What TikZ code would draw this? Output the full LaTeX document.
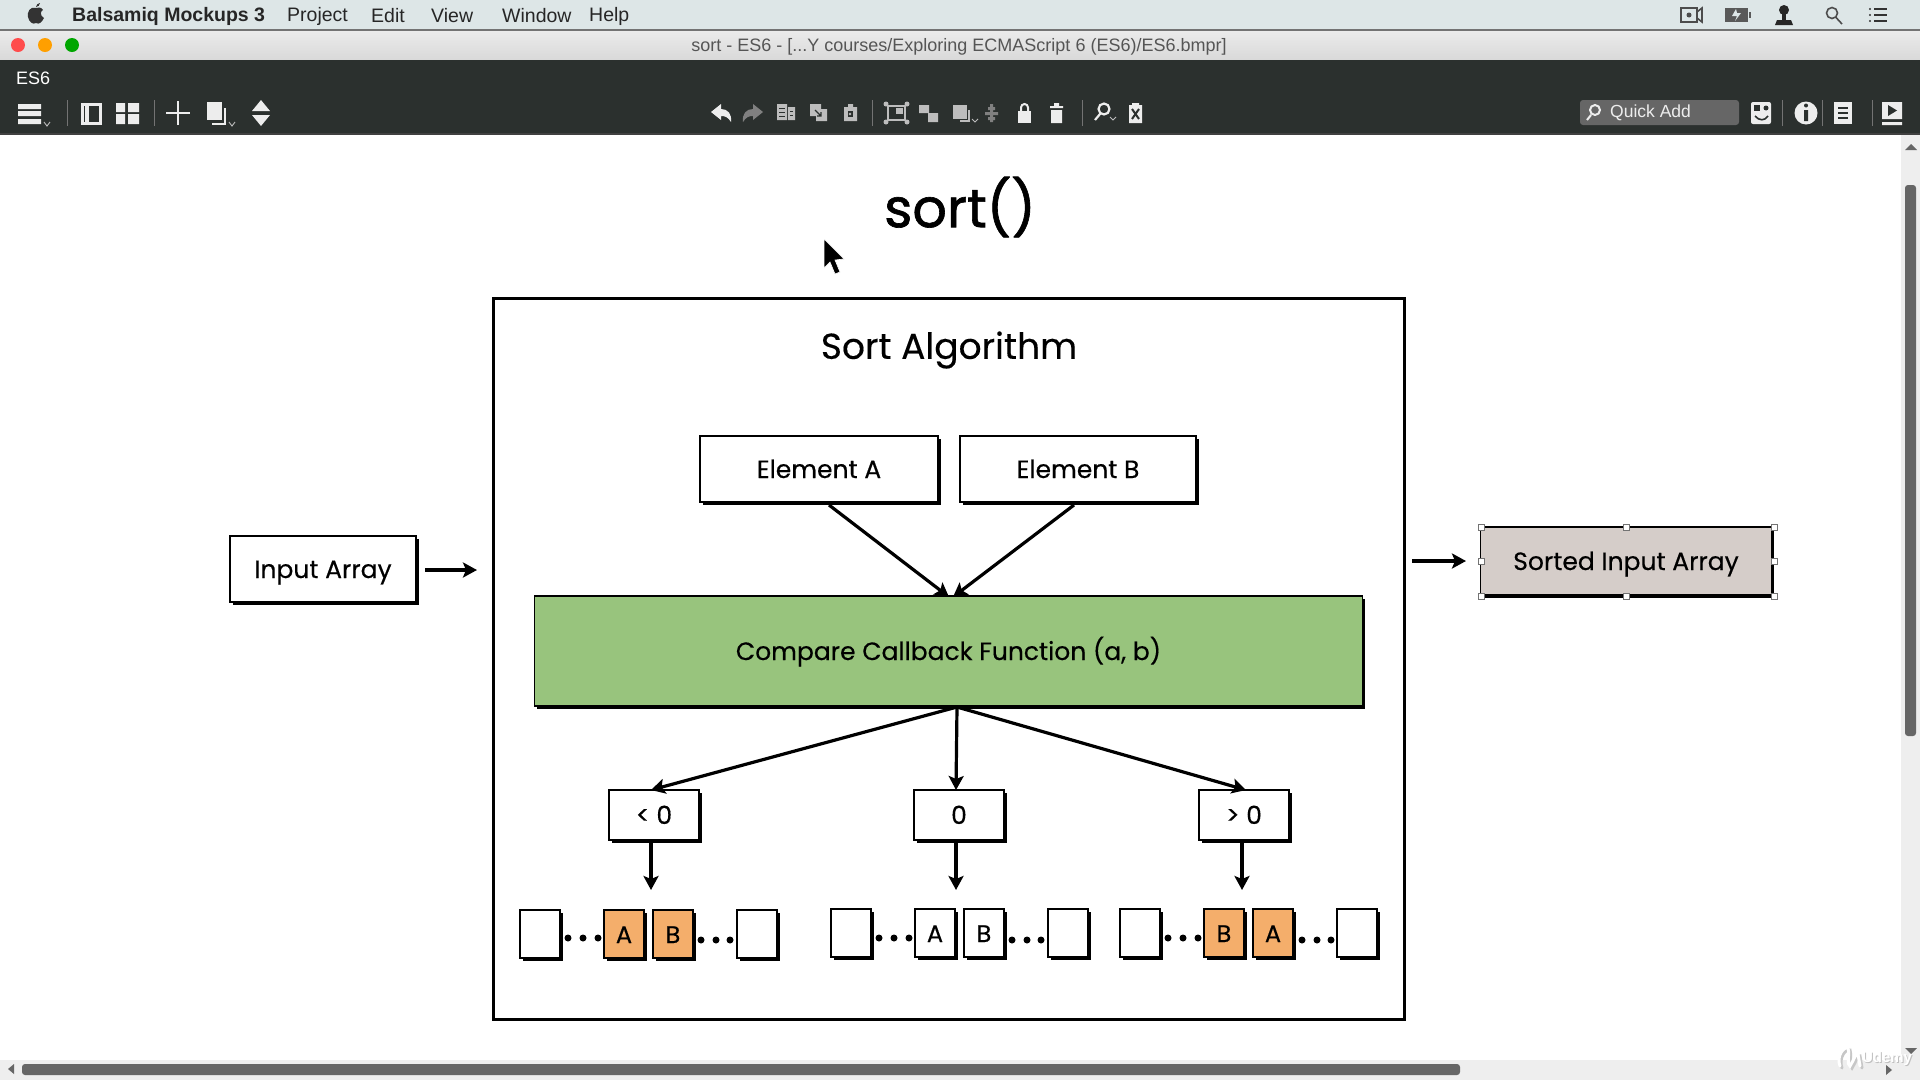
\documentclass[tikz,border=0pt]{standalone}
\usepackage{fontspec}
\setmainfont{Poppins}[FakeBold=0.35]
\newfontfamily\titlefont{Poppins}[FakeBold=1.2]
\newfontfamily\uifont{Liberation Sans}
\usetikzlibrary{shadows,arrows.meta}
\definecolor{menubg}{HTML}{DDE6E7}
\definecolor{titlebg}{HTML}{DCDCDC}
\definecolor{darkbg}{HTML}{2B302E}
\definecolor{greenbox}{HTML}{98C47D}
\definecolor{orangebox}{HTML}{F4AE6B}
\definecolor{beigebox}{HTML}{D5CDC9}
\definecolor{uigrey}{HTML}{555555}
\definecolor{iconw}{HTML}{EDEDED}
\definecolor{icong}{HTML}{BDBDBD}
\definecolor{track}{HTML}{EEEEEE}
\tikzset{
  x=1pt,y=-1pt,
  sketch/.style={draw=black,line width=1.5pt,fill=white,inner sep=0pt,text height=18pt,text depth=0pt,
    general shadow={shadow xshift=2.5pt,shadow yshift=-3pt,fill=black},font=\fontsize{25}{28}\selectfont},
  small/.style={sketch,minimum width=40pt,minimum height=48pt,font=\fontsize{24}{26}\selectfont},
  cmp/.style={sketch,minimum width=90pt,minimum height=50pt},
  elem/.style={sketch,minimum width=238pt,minimum height=66pt},
  flow/.style={-{Stealth[length=14pt,width=15pt,inset=3pt]},line width=3.2pt,black},
  ddot/.style={circle,fill=black,minimum size=7pt,inner sep=0pt},
  menu/.style={font=\uifont\fontsize{19.5}{22}\selectfont,text=black!85,anchor=west,inner sep=0pt},
  ic/.style={fill=iconw,draw=none},
  icg/.style={fill=icong,draw=none},
  caret/.style={draw=icong,line width=.9pt},
  handle/.style={draw=black!55,fill=white,line width=.6pt,minimum size=6pt,inner sep=0pt},
}
\begin{document}
\begin{tikzpicture}
\useasboundingbox (0,0) rectangle (1920,1080);
\fill[white] (0,0) rectangle (1920,1080);
% menu bar
\fill[menubg] (0,0) rectangle (1920,29);
\fill[black!55] (0,29) rectangle (1920,31);
\fill[top color=white!92!black,bottom color=black!15] (0,31) rectangle (1920,60);
\fill[darkbg] (0,60) rectangle (1920,133);
\fill[black!75] (0,133) rectangle (1920,135);
% apple
\fill[black!80] (36,8) .. controls (30,6) and (27,12) .. (28,17) .. controls (29,22) and (33,25) .. (36,23) .. controls (39,25) and (42,22) .. (44,18) .. controls (40,16) and (40,11) .. (43,10) .. controls (41,7) and (38,7) .. (36,8) -- cycle;
\fill[black!80] (36,7) .. controls (36,5) and (38,3) .. (40,3) .. controls (40,5) and (38,7) .. (36,7) -- cycle;
\node[menu,font=\uifont\bfseries\fontsize{19.5}{22}\selectfont] (app) at (72,16) {Balsamiq Mockups 3};
\node[menu] (m1) at (287,16) {Project};
\node[menu] (m2) at (371,16) {Edit};
\node[menu] (m3) at (431,16) {View};
\node[menu] (m4) at (502,16) {Window};
\node[menu] (m5) at (589,16) {Help};
% menu right icons
\draw[black!70,line width=1.6pt] (1681,8) rectangle (1697,22) (1697,12) -- (1702,8) -- (1702,22) -- (1697,18);
\fill[black!70] (1689,15) circle (2.5);
\fill[black!65] (1725,8) rectangle (1748,22);
\fill[black!65] (1749,12) rectangle (1751,18);
\fill[menubg] (1736,9) -- (1732,16) -- (1737,16) -- (1735,21) -- (1741,13) -- (1737,13) -- cycle;
\fill[black!85] (1784,10) circle (5);
\fill[black!85] (1782,12) rectangle (1786,20);
\fill[black!85] (1775,25) -- (1777,20) -- (1791,20) -- (1793,25) -- cycle;
\draw[black!70,line width=1.6pt] (1832,13) circle (5.5) (1836,17.5) -- (1842,24);
\draw[black!80,line width=2pt] (1874,9) -- (1887,9) (1874,15) -- (1887,15) (1874,21) -- (1887,21);
\fill[black!80] (1870,9) circle (1.2) (1870,15) circle (1.2) (1870,21) circle (1.2);
% window controls
\fill[red!70!white] (18,45) circle (7);
\fill[orange!75!yellow] (45,45) circle (7);
\fill[green!65!black] (72,45) circle (7);
\node[font=\uifont\fontsize{18}{20}\selectfont,text=uigrey,inner sep=0pt] (wintitle) at (959,47) {sort - ES6 - [...Y courses/Exploring ECMAScript 6 (ES6)/ES6.bmpr]};
\node[menu,text=white,font=\uifont\fontsize{18}{20}\selectfont] (tab) at (16,78) {ES6};
% toolbar left
\fill[ic] (18,104) rectangle (41,109) (18,111) rectangle (41,116) (18,119) rectangle (41,124);
\draw[caret] (44,122) -- (47,126) -- (50,122);
\draw[iconw,line width=3pt] (82,104) rectangle (100,123);
\fill[ic] (85,104) rectangle (89,123);
\fill[ic] (116,103) rectangle (125,112) (128,103) rectangle (139,112) (116,114) rectangle (125,124) (128,114) rectangle (139,124);
\draw[iconw,line width=2.4pt] (178,101) -- (178,125) (166,113) -- (190,113);
\fill[ic] (207,102) rectangle (222,120);
\draw[iconw,line width=2pt] (225,108) -- (225,124) -- (212,124);
\draw[caret] (229,122) -- (232,126) -- (235,122);
\fill[ic] (261,100) -- (270,111) -- (252,111) -- cycle (252,115) -- (270,115) -- (261,126) -- cycle;
\draw[black!55,line width=.8pt] (67,100) -- (67,126) (154,100) -- (154,126) (872,100) -- (872,126) (1082,100) -- (1082,126) (1782,100) -- (1782,126) (1822,100) -- (1822,126) (1872,100) -- (1872,126);
% toolbar middle
\fill[ic] (711,112) -- (721,104) -- (721,109) .. controls (728,109) and (732,114) .. (731,122) .. controls (728,117) and (725,116) .. (721,116) -- (721,120) -- cycle;
\fill[black!50] (763,112) -- (753,104) -- (753,109) .. controls (746,109) and (742,114) .. (743,122) .. controls (746,117) and (749,116) .. (753,116) -- (753,120) -- cycle;
\fill[icg] (777,104) rectangle (787,120) (788,107) rectangle (795,120);
\draw[darkbg,line width=.8pt] (779,108) -- (785,108) (779,112) -- (785,112) (779,116) -- (785,116) (790,111) -- (793,111) (790,115) -- (793,115);
\fill[icg] (810,104) rectangle (821,116) (816,109) rectangle (827,121);
\draw[darkbg,line width=1.2pt] (815,110) -- (821,116) (821,112) -- (821,116) -- (817,116);
\fill[icg] (844,107) rectangle (857,121) (848,104) rectangle (853,107);
\fill[darkbg] (848,111) rectangle (853,117);
\fill[icg] (850,114) circle (1.3);
\draw[icong,line width=2pt] (888,106) rectangle (905,120);
\fill[icg] (896,108) rectangle (903,114);
\fill[icg] (886,104) circle (2.5) (907,104) circle (2.5) (886,122) circle (2.5) (907,122) circle (2.5);
\fill[icg] (919,105) rectangle (929,113) (928,113) rectangle (938,122);
\fill[icg] (953,105) rectangle (967,119);
\draw[icong,line width=1.5pt] (969,110) -- (969,121) -- (960,121);
\draw[caret] (972,119) -- (975,122) -- (978,119);
\fill[black!50] (985,112) rectangle (998,115) (988,107) rectangle (995,110) (988,117) rectangle (995,120) (990,104) rectangle (993,122);
\fill[ic] (1018,111) rectangle (1031,123);
\draw[iconw,line width=2pt] (1021,112) -- (1021,107.5) arc[start angle=180,end angle=360,radius=3.5] -- (1028,112);
\fill[ic] (1051,110) rectangle (1062,123) (1050,106) rectangle (1063,108) (1054,103) rectangle (1059,106);
\draw[iconw,line width=2.2pt] (1104,109) circle (5.5) (1100,114) -- (1095,120);
\draw[caret] (1110,117) -- (1113,120) -- (1116,117);
\fill[ic] (1129,105) rectangle (1142,123) (1132,103) rectangle (1139,106);
\draw[darkbg,line width=2pt] (1132,109) -- (1139,119) (1139,109) -- (1132,119);
% quick add
\fill[black!60,rounded corners=3pt] (1580,100) rectangle (1739,125);
\draw[iconw,line width=2pt] (1595,110) circle (5) (1591,115) -- (1587,120);
\node[menu,text=iconw,font=\uifont\fontsize{17.5}{20}\selectfont] (quick) at (1610,113) {Quick Add};
\fill[ic,rounded corners=2pt] (1751,102) rectangle (1771,124);
\fill[darkbg] (1754,105) rectangle (1760,111);
\fill[darkbg] (1766,108) circle (2.5);
\draw[darkbg,line width=1.6pt] (1755,116) .. controls (1759,121) and (1765,121) .. (1768,116);
\fill[ic] (1806,113) circle (11.5);
\fill[darkbg] (1804,110) rectangle (1808,121) (1806,105.5) circle (2);
\fill[ic] (1834,102) rectangle (1852,124);
\draw[darkbg,line width=1.6pt] (1838,108) -- (1848,108) (1838,113) -- (1848,113) (1838,118) -- (1848,118);
\fill[ic] (1882,102) rectangle (1902,119) (1882,122) rectangle (1902,125);
\fill[darkbg] (1888,105) -- (1897,110.5) -- (1888,116) -- cycle;
% scrollbars
\fill[track] (1901,135) rectangle (1920,1080);
\fill[track] (0,1060) rectangle (1920,1080);
\fill[black!60,rounded corners=3pt] (1905,185) rectangle (1916,736);
\fill[black!60,rounded corners=3pt] (22,1064) rectangle (1460,1075);
\fill[black!60] (1911,144) -- (1905,150) -- (1917,150) -- cycle (1911,1054) -- (1905,1048) -- (1917,1048) -- cycle;
\fill[black!60] (8,1069) -- (14,1064) -- (14,1074) -- cycle (1892,1070) -- (1886,1065) -- (1886,1075) -- cycle;
% title and cursor
\node[font=\titlefont\fontsize{54}{58}\selectfont,inner sep=0pt] (title) at (960,207) {sort()};
\fill[black,draw=white,line width=.6pt] (824,239) -- (824,268) -- (830,262) -- (835,274) -- (840,272) -- (835,260) -- (844,259) -- cycle;
% outer box
\node[draw=black,line width=2.2pt,fill=white,minimum width=911pt,minimum height=721pt,inner sep=0pt] (algo) at (949,659) {};
\node[font=\fontsize{36}{40}\selectfont,inner sep=0pt] (algotitle) at (949,350) {Sort Algorithm};
% main boxes
\node[elem] (ea) at (819,469) {Element A};
\node[elem,minimum width=236pt] (eb) at (1078,469) {Element B};
\node[sketch,minimum width=186pt,minimum height=66pt] (input) at (323,569) {Input Array};
\node[sketch,fill=greenbox,minimum width=828pt,minimum height=110pt] (cmpfn) at (948.5,651) {Compare Callback Function (a, b)};
\node[sketch,fill=beigebox,minimum width=291pt,minimum height=68pt] (sorted) at (1626,561) {Sorted Input Array};
\foreach \hx/\hy/\hn in {1481/527/a,1626/527/b,1774/527/c,1481/561/d,1774/561/e,1481/596/f,1626/596/g,1774/596/h}
  \node[handle] (h\hn) at (\hx,\hy) {};
\coordinate (inarrA) at (425,570);
\coordinate (inarrB) at (477,570);
\coordinate (outA) at (1412,561);
\coordinate (outB) at (1466,561);
\draw[flow] (inarrA) -- (inarrB);
\draw[flow] (outA) -- (outB);
% result nodes
\node[cmp] (lt) at (654,815) {< 0};
\node[cmp] (zr) at (959,815) {0};
\node[cmp] (gt) at (1244,815) {> 0};
% connectors from elements
\coordinate (ea1) at (829,505);
\coordinate (eb1) at (1074,505);
\coordinate (c1) at (949,597);
\coordinate (c2) at (953,597);
\draw[flow] (ea1) -- (c1);
\draw[flow] (eb1) -- (c2);
\coordinate (c3) at (957,707);
\coordinate (l1) at (651,790);
\coordinate (z1) at (956,790);
\coordinate (g1) at (1246,790);
\draw[flow] (c3) -- (l1);
\draw[flow] (c3) -- (z1);
\draw[flow] (c3) -- (g1);
% first row
\node[small] (a1) at (540,934) {};
\node[small,fill=orangebox] (a2) at (624,934) {A};
\node[small,fill=orangebox] (a3) at (673,934) {B};
\node[small] (a4) at (757,934) {};
\node[small] (b1) at (851,933) {};
\node[small] (b2) at (935,933) {A};
\node[small] (b3) at (984,933) {B};
\node[small] (b4) at (1068,933) {};
\node[small] (d1) at (1140,933) {};
\node[small,fill=orangebox] (d2) at (1224,933) {B};
\node[small,fill=orangebox] (d3) at (1273,933) {A};
\node[small] (d4) at (1357,933) {};
\foreach \dx/\dy in {568/938,583/938,598/938,701/940,716/940,730/940,
                     879/938,894/938,909/938,1012/940,1027/940,1041/940,
                     1168/938,1183/938,1198/938,1302/940,1317/940,1331/940}
  \node[ddot] at (\dx,\dy) {};
\coordinate (la) at (651,841); \coordinate (lb) at (651,890);
\coordinate (za) at (956,841); \coordinate (zb) at (956,890);
\coordinate (ga) at (1242,841); \coordinate (gb) at (1242,890);
\draw[flow] (la) -- (lb);
\draw[flow] (za) -- (zb);
\draw[flow] (ga) -- (gb);
% watermark
\draw[black!22,line width=3pt,line cap=round] (1842,1068) .. controls (1838,1058) and (1846,1048) .. (1850,1050) .. controls (1852,1058) and (1848,1066) .. (1852,1068) .. controls (1856,1062) and (1858,1054) .. (1860,1056) -- (1862,1068);
\draw[white,line width=3pt,line cap=round] (1840,1066) .. controls (1836,1056) and (1844,1046) .. (1848,1048) .. controls (1850,1056) and (1846,1064) .. (1850,1066) .. controls (1854,1060) and (1856,1052) .. (1858,1054) -- (1860,1066);
\node[font=\uifont\bfseries\fontsize{15}{18}\selectfont,text=black!25,inner sep=0pt] (wms) at (1888,1060) {Udemy};
\node[font=\uifont\bfseries\fontsize{15}{18}\selectfont,text=white,inner sep=0pt] (wm) at (1887,1059) {Udemy};
\end{tikzpicture}
\end{document}
